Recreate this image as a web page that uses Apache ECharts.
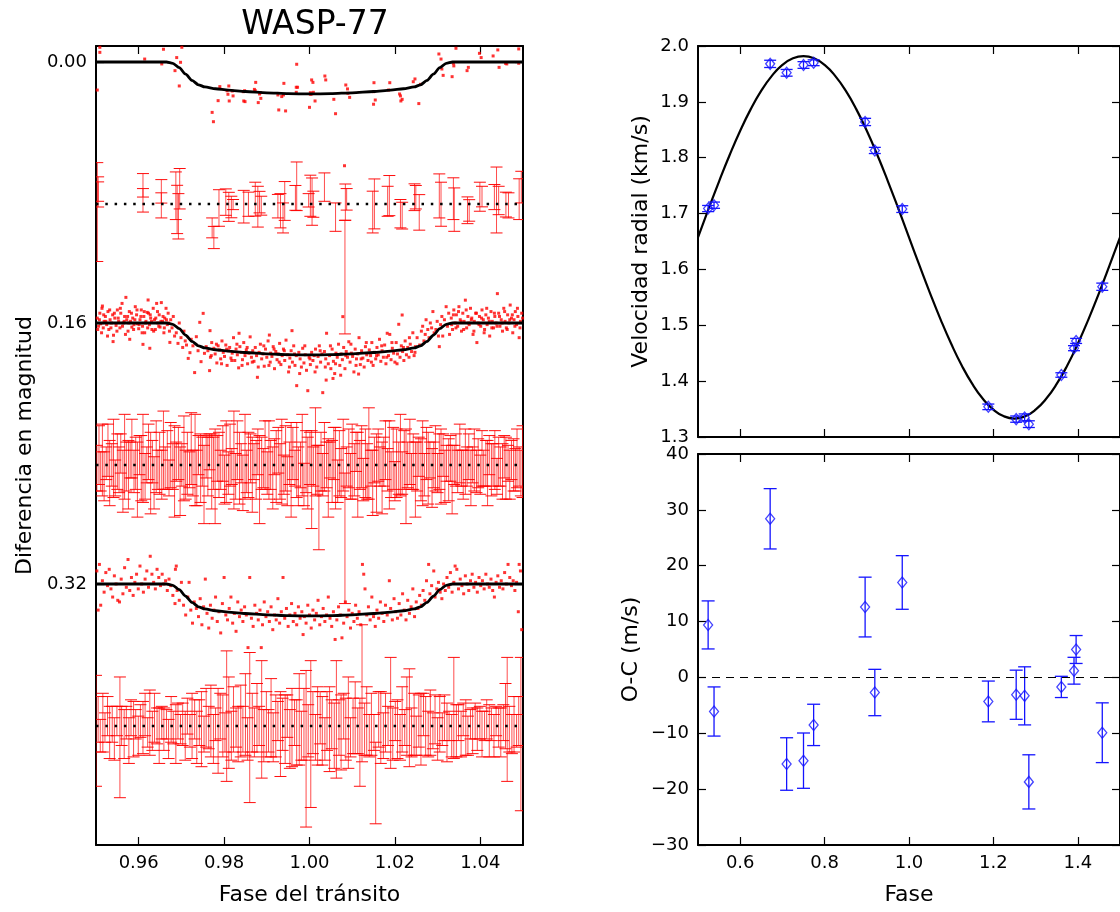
<!DOCTYPE html>
<html><head><meta charset="utf-8">
<script src="https://cdn.jsdelivr.net/npm/echarts@6/dist/echarts.min.js"></script>
<style>html,body{margin:0;padding:0;background:#fff}#c{width:1120px;height:912px}</style>
</head><body><div id="c"></div>
<script>
// ---------------- DATA ----------------
// Transit model (phase, depth in mmag)
var transitModel = [[0.95,0],[0.9665,0],[0.968,0.8],[0.9695,3.5],[0.971,7.5],[0.9725,11.3],[0.974,14.0],[0.9755,15.3],[0.978,16.4],[0.981,17.2],[0.985,18.1],[0.99,18.9],[0.995,19.4],[1.0,19.6],[1.005,19.4],[1.01,18.9],[1.015,18.1],[1.019,17.2],[1.022,16.4],[1.0245,15.3],[1.026,14.0],[1.0275,11.3],[1.029,7.5],[1.0305,3.5],[1.032,0.8],[1.0335,0],[1.05,0]];
var transitOffsets = [0, 0.16, 0.32];
var residOffsets = [0.087, 0.247, 0.407];

// Transit 1 photometry (phase, mmag)
var t1 = [[0.9509,-9.0],[0.9509,-5.9],[0.9614,-1.8],[0.9658,-7.8],[0.9701,-9.0],[0.9689,-2.7],[0.9698,0.2],[0.9654,1.2],[0.9685,5.3],[0.9695,14.7],[0.9503,17.2],[0.9970,1.4],[1.0036,8.6],[1.0038,11.0],[1.0005,11.0],[1.0008,12.5],[0.9940,13.1],[0.9969,15.5],[0.9972,15.5],[0.9874,12.5],[0.9811,14.7],[0.9790,15.1],[0.9807,17.6],[0.9819,17.8],[0.9848,17.6],[0.9845,18.2],[0.9871,16.8],[0.9873,17.6],[0.9885,18.8],[0.9883,19.6],[0.9809,19.8],[0.9821,20.8],[0.9786,23.7],[0.9812,23.9],[0.9846,23.9],[0.9849,24.3],[0.9880,24.9],[0.9886,22.3],[0.9926,20.2],[0.9935,21.2],[0.9939,20.2],[0.9969,18.6],[1.0002,18.8],[1.0005,19.6],[1.0009,18.6],[1.0002,19.8],[1.0013,23.9],[1.0057,22.9],[1.0085,14.1],[1.0089,16.5],[1.0090,19.2],[1.0094,21.7],[1.0151,12.7],[1.0150,18.2],[1.0154,23.3],[1.0150,25.9],[1.0188,12.7],[1.0185,17.2],[1.0211,19.6],[1.0213,20.8],[1.0217,22.9],[1.0214,23.9],[1.0243,12.1],[1.0247,10.4],[1.0260,13.7],[1.0256,25.5],[0.9928,29.4],[0.9944,30.0],[1.0000,27.8],[1.0061,31.7],[0.9772,30.9],[0.9775,36.6],[1.0303,-4.9],[1.0308,-1.8],[1.0343,-8.4],[1.0398,-5.3],[1.0402,-2.7],[1.0430,-3.7],[1.0441,-7.4],[1.0490,-8.0],[1.0310,4.3],[1.0313,8.2],[1.0334,9.0],[1.0338,2.4],[1.0337,0.8],[1.0372,3.3],[1.0369,5.3],[1.0444,3.3],[1.0459,0.8],[1.0462,1.2],[1.0490,0.8],[1.0082,63.6]];

// Transit 2 photometry (phase, mmag)
var t2 = [[0.9503,-3],[0.9506,2],[0.9509,-6],[0.9511,0.5],[0.9514,-9],[0.9515,-10.4],[0.9517,3],[0.9519,-1],[0.9522,-4],[0.9525,1],[0.9528,-7],[0.9530,4],[0.9533,-2],[0.9536,0],[0.9539,-5],[0.9540,11.4],[0.9541,7.5],[0.9544,-3],[0.9547,1.5],[0.9550,-8],[0.9553,-1],[0.9556,3],[0.9558,-6],[0.9561,-12],[0.9564,0],[0.9567,-4],[0.9570,-15.7],[0.9572,-2],[0.9575,5],[0.9578,-7],[0.9579,10],[0.9581,-1],[0.9584,2.5],[0.9586,-3],[0.9589,1],[0.9592,-10],[0.9595,-5],[0.9597,0.5],[0.9600,3.5],[0.9603,-2],[0.9606,-8],[0.9609,2],[0.9610,13.1],[0.9612,-4],[0.9614,6],[0.9617,-1],[0.9620,-6.5],[0.9622,-14.1],[0.9623,-6],[0.9625,1],[0.9626,15.5],[0.9628,-3],[0.9631,4],[0.9634,-9],[0.9637,-2],[0.9639,4],[0.9642,-12],[0.9645,0],[0.9648,-5],[0.9650,2.5],[0.9653,-12.5],[0.9656,-1],[0.9659,6],[0.9661,-3],[0.9664,-9],[0.9667,1],[0.9669,-6],[0.9672,5],[0.9673,11.9],[0.9675,-2],
[0.9504,4],[0.9508,-2],[0.9513,6],[0.9518,-5],[0.9523,-1],[0.9527,8],[0.9532,-8],[0.9535,3],[0.9543,-6],[0.9549,5],[0.9552,-3],[0.9557,-9],[0.9562,2],[0.9566,-1],[0.9569,7],[0.9574,-4],[0.9577,0],[0.9583,-6],[0.9588,4],[0.9591,-2],[0.9596,-8],[0.9601,1],[0.9605,-4],[0.9608,6],[0.9613,-7],[0.9616,0],[0.9621,3],[0.9627,-5],[0.9630,-1],[0.9635,5],[0.9640,-3],[0.9644,-7],[0.9647,2],[0.9652,-1],[0.9657,-4],[0.9660,3],[0.9665,-2],[0.9670,0],
[0.9678,3],[0.9681,-4],[0.9684,8],[0.9688,6],[0.9692,12.5],[0.9695,0],[0.9699,9],[0.9703,15],[0.9706,5],[0.9709,11],[0.9712,13.5],[0.9716,21.7],[0.9720,18.2],[0.9723,10],[0.9727,14],[0.9731,30.4],[0.9735,8.4],[0.9739,17],[0.9743,-0.4],[0.9746,23.7],[0.9751,-5.9],[0.9754,18.6],[0.9758,14.5],[0.9766,29.2],[0.9767,4.7],
[0.9762,17],[0.9768,21],[0.9771,12],[0.9776,15.5],[0.9779,19],[0.9783,24.5],[0.9786,14],[0.9789,16.5],[0.9792,22],[0.9795,11],[0.9798,18],[0.9801,20.5],[0.9804,13.5],[0.9807,26],[0.9810,17],[0.9813,15],[0.9816,21.5],[0.9819,18.5],[0.9822,9],[0.9825,23],[0.9828,16],[0.9831,19.5],[0.9834,27.5],[0.9835,6.3],[0.9837,14.5],[0.9840,18],[0.9843,22.5],[0.9846,12],[0.9849,20],[0.9852,16.5],[0.9855,25],[0.9858,18.5],[0.9861,8.5],[0.9864,21],[0.9867,17],[0.9870,23.5],[0.9873,15],[0.9876,20],[0.9878,33.3],[0.9882,18],[0.9885,13],[0.9888,22],[0.9891,19],[0.9894,26.5],[0.9897,16],[0.9900,21],[0.9903,11],[0.9906,7.4],[0.9908,24],[0.9909,18.5],[0.9912,20.5],[0.9915,14.5],[0.9918,28],[0.9921,17.5],[0.9924,22.5],[0.9927,19],[0.9930,12.5],[0.9933,25.5],[0.9936,20],[0.9939,16],[0.9942,23],[0.9945,10.5],[0.9948,19.5],[0.9951,30],[0.9954,21.5],[0.9957,17],[0.9959,4.7],[0.9960,24],[0.9963,14],[0.9966,26],[0.9969,20],[0.9970,38.4],[0.9975,18],[0.9978,22],[0.9981,27],[0.9984,15.5],[0.9987,24.5],[0.9990,19.5],[0.9993,29],[0.9996,41.5],[0.9999,21],[1.0002,25.5],[1.0005,18],[1.0008,23],[1.0011,20],[1.0014,16],[1.0017,27],[1.0020,20.5],[1.0023,14],[1.0026,24],[1.0029,19],[1.0031,42.7],[1.0035,17.5],[1.0038,22],[1.0039,35],[1.0040,6.3],[1.0044,25],[1.0047,20],[1.0050,28],[1.0053,16],[1.0055,34],[1.0056,23.5],[1.0059,31],[1.0062,18.5],[1.0065,21],[1.0068,13],[1.0071,26],[1.0074,19],[1.0077,22.5],[1.0078,-3.9],[1.0080,15],[1.0083,28],[1.0086,17.5],[1.0089,21],[1.0092,11.5],[1.0095,24],[1.0098,18.5],[1.0101,20.5],[1.0104,30],[1.0107,16],[1.0110,22],[1.0113,19],[1.0115,31.3],[1.0116,9],[1.0119,25.5],[1.0122,17],[1.0125,21.5],[1.0128,27],[1.0131,14.5],[1.0134,19.5],[1.0137,23],[1.0140,16.5],[1.0143,20],[1.0146,12],[1.0149,26],[1.0152,18],[1.0155,22],[1.0158,15],[1.0161,19.5],[1.0164,10],[1.0167,23.5],[1.0170,17],[1.0173,21],[1.0176,13.5],[1.0179,25],[1.0182,6.3],[1.0185,20],[1.0188,7],[1.0191,22.5],[1.0194,15.5],[1.0197,18.5],[1.0200,24],[1.0203,12],[1.0206,19],[1.0209,0.8],[1.0212,21],[1.0215,14],[1.0217,-4.9],[1.0218,17.5],[1.0221,23],[1.0224,11],[1.0227,19.5],[1.0230,15],[1.0233,21],[1.0236,13],[1.0239,17.5],[1.0242,6],[1.0245,20],[1.0248,14.5],
[0.9770,20],[0.9782,13],[0.9794,25],[0.9806,16],[0.9818,23],[0.9830,13],[0.9842,26],[0.9854,15],[0.9866,24],[0.9880,27],[0.9893,14],[0.9905,26],[0.9917,16],[0.9929,24],[0.9941,17],[0.9953,27],[0.9965,19],[0.9977,31],[0.9989,14],[1.0001,22],[1.0013,30],[1.0025,17],[1.0037,27],[1.0049,14],[1.0061,25],[1.0073,32],[1.0085,20],[1.0097,13],[1.0109,26],[1.0121,22],[1.0133,12],[1.0145,24],[1.0157,20],[1.0169,14],[1.0181,21],[1.0193,12],[1.0205,25],[1.0220,15],[1.0234,9],[1.0247,18],
[1.0252,9],[1.0258,13.5],[1.0262,5],[1.0265,2],[1.0268,11],[1.0271,7],[1.0273,-2],[1.0277,4],[1.0280,9],[1.0283,0],[1.0286,3],[1.0289,-7],[1.0292,6],[1.0296,4],[1.0299,-1],[1.0302,8],[1.0304,14.5],[1.0307,1],[1.0310,-4],[1.0312,8],[1.0316,-2],[1.0320,-10],[1.0323,2],[1.0326,-6],[1.0328,7],
[1.0332,-3],[1.0335,4],[1.0338,-8],[1.0341,0],[1.0344,-5],[1.0347,2],[1.0350,-10],[1.0353,-2],[1.0356,5],[1.0359,-6],[1.0362,-1],[1.0365,-14],[1.0368,3],[1.0371,-4],[1.0374,1],[1.0377,-9],[1.0380,-3],[1.0383,7],[1.0386,-1],[1.0389,-6],[1.0392,12],[1.0395,0],[1.0398,-4],[1.0401,2],[1.0404,-8],[1.0407,-2],[1.0410,4],[1.0413,-5],[1.0416,1],[1.0419,-3],[1.0422,8],[1.0425,-7],[1.0428,-1],[1.0431,3],[1.0434,-4],[1.0437,0],[1.0440,-18],[1.0443,-6],[1.0446,2],[1.0449,-2],[1.0452,5],[1.0455,-9],[1.0458,-1],[1.0461,3],[1.0464,-5],[1.0467,0],[1.0470,-11],[1.0473,-3],[1.0476,6],[1.0479,-2],[1.0482,-7],[1.0485,1],[1.0488,-4],[1.0491,9],[1.0494,-1],[1.0497,-6],
[1.0333,1],[1.0337,-5],[1.0343,3],[1.0349,-7],[1.0355,-1],[1.0361,4],[1.0367,-8],[1.0373,0],[1.0379,-2],[1.0385,5],[1.0391,-6],[1.0397,1],[1.0403,-3],[1.0409,6],[1.0415,-9],[1.0421,-1],[1.0427,3],[1.0433,-6],[1.0439,2],[1.0445,-4],[1.0451,0],[1.0457,-7],[1.0463,4],[1.0469,-2],[1.0475,-5],[1.0481,2],[1.0487,-9],[1.0493,3],[1.0499,-3]];

// Transit 3 photometry (phase, mmag)
var t3 = [[0.9502,-8],[0.9505,16],[0.9508,-12],[0.9511,13],[0.9515,-2],[0.9519,5],[0.9523,-7],[0.9527,1],[0.9531,-9],[0.9535,3],[0.9539,8],[0.9543,-5],[0.9547,0],[0.9551,10],[0.9555,11],[0.9559,-3],[0.9563,6],[0.9567,-10],[0.9571,2],[0.9575,-15],[0.9579,4],[0.9583,-4],[0.9587,7],[0.9591,-1],[0.9595,-6],[0.9599,3],[0.9603,-11],[0.9607,0],[0.9611,5],[0.9615,-3],[0.9619,-8],[0.9623,2],[0.9627,-17],[0.9631,-6],[0.9635,-1],[0.9639,3],[0.9643,-9],[0.9647,-4],[0.9651,1],[0.9655,-6],[0.9659,0],[0.9663,-2],[0.9667,4],[0.9671,-3],[0.9675,1],[0.9688,-11],[0.9686,-9],
[0.9680,7],[0.9685,12],[0.9690,4],[0.9695,10],[0.9700,-1],[0.9705,13],[0.9710,19],[0.9715,8],[0.9718,-1],[0.9722,16],[0.9726,24],[0.9730,11],[0.9735,15],[0.9740,20],[0.9744,9],[0.9748,25],[0.9752,14],[0.9756,-3],[0.9760,18],[0.9764,27],[0.9768,13],[0.9772,21],[0.9776,16],[0.9780,8],[0.9784,23],[0.9788,17],[0.9792,30],[0.9796,12],[0.9800,-4],[0.9804,19],[0.9808,22],[0.9812,15],[0.9816,8],[0.9820,24],[0.9824,18],[0.9828,29],[0.9832,11],[0.9836,20],[0.9840,16],[0.9844,23],[0.9848,14],[0.9852,19],[0.9856,39],[0.9860,-4],[0.9864,21],[0.9868,26],[0.9872,13],[0.9876,18],[0.9880,22],[0.9884,16],[0.9887,39],[0.9890,25],[0.9894,11],[0.9898,20],[0.9902,17],[0.9906,23],[0.9910,14],[0.9914,28],[0.9918,19],[0.9922,22],[0.9926,9],[0.9930,24],[0.9934,17],[0.9938,-4],[0.9942,21],[0.9946,15],[0.9950,26],[0.9954,19],[0.9958,12],[0.9962,23],[0.9966,18],[0.9970,25],[0.9974,14],[0.9978,21],[0.9982,17],[0.9985,31],[0.9988,20],[0.9992,24],[0.9996,13],[1.0000,19],[1.0004,27],[1.0008,16],[1.0012,22],[1.0016,18],[1.0020,10],[1.0024,25],[1.0028,20],[1.0032,15],[1.0036,23],[1.0040,19],[1.0044,8],[1.0048,21],[1.0052,26],[1.0056,17],[1.0060,34],[1.0064,22],[1.0068,14],[1.0072,19],[1.0076,33],[1.0080,24],[1.0084,11],[1.0088,20],[1.0092,16],[1.0096,27],[1.0100,18],[1.0104,23],[1.0108,13],[1.0112,21],[1.0116,17],[1.0120,25],[1.0124,-12],[1.0127,-6],[1.0130,3],[1.0134,19],[1.0138,14],[1.0142,22],[1.0146,8],[1.0150,20],[1.0154,26],[1.0158,16],[1.0162,21],[1.0166,11],[1.0170,18],[1.0174,23],[1.0178,13],[1.0182,19],[1.0187,-2],[1.0190,15],[1.0194,22],[1.0198,9],[1.0202,17],[1.0206,21],[1.0210,12],[1.0214,19],[1.0218,6],[1.0222,16],[1.0226,22],[1.0230,10],[1.0234,18],[1.0238,14],[1.0242,3],[1.0246,20],[1.0250,11],[1.0254,15],[1.0258,7],[1.0262,13],[1.0266,4],[1.0270,10],[1.0274,-2],[1.0279,-12],[1.0282,6],[1.0286,1],[1.0291,-8],[1.0294,8],[1.0298,3],[1.0302,-1],[1.0306,5],[1.0310,9],[1.0314,0],[1.0318,4],
[1.0322,-4],[1.0326,2],[1.0330,-7],[1.0334,5],[1.0338,-1],[1.0341,-11],[1.0345,-9],[1.0349,3],[1.0353,-3],[1.0357,1],[1.0361,6],[1.0365,-5],[1.0369,0],[1.0373,4],[1.0377,-2],[1.0381,-6],[1.0385,2],[1.0389,-1],[1.0393,5],[1.0397,-4],[1.0401,1],[1.0405,-2],[1.0409,3],[1.0413,-6],[1.0417,0],[1.0421,2],[1.0425,-3],[1.0429,4],[1.0433,8],[1.0437,-1],[1.0441,-5],[1.0445,2],[1.0449,-2],[1.0453,3],[1.0457,-7],[1.0461,0],[1.0465,-12],[1.0469,-4],[1.0473,1],[1.0477,-2],[1.0481,4],[1.0485,-1],[1.0489,17],[1.0491,-12],[1.0494,-8],[1.0497,28]];

// Residuals (phase, residual mmag, error mmag)
var r1 = [[0.9503,5.0,30.3],[0.9505,-9.1,7.5],[0.9505,-5.8,7.7],[0.9610,-11.4,7.2],[0.9610,-2.2,7.2],[0.9653,-7.7,7.2],[0.9653,0.9,7.7],[0.9687,-5.0,14.6],[0.9690,3.4,14.8],[0.9696,-9.3,12.4],[0.9693,7.6,13.9],[0.9772,14.7,6.1],[0.9776,20.6,6.8],[0.9788,2.5,11.2],[0.9804,-1.1,8.1],[0.9811,1.8,8.9],[0.9817,1.9,6.6],[0.9821,0.4,3.1],[0.9846,1.7,10.0],[0.9857,0.2,7.4],[0.9873,-2.9,10.4],[0.9879,1.7,12.5],[0.9883,-1.1,6.6],[0.9887,1.1,5.8],[0.9926,1.4,7.2],[0.9932,4.2,10.5],[0.9938,8.6,9.2],[0.9942,-1.8,11.9],[0.9970,-10.8,14.9],[0.9967,-3.7,7.6],[1.0002,-5.0,12.6],[1.0006,-1.4,14.5],[1.0009,0.2,8.0],[0.9998,-2.2,4.1],[1.0035,-10.3,8.7],[1.0061,8.1,8.7],[1.0084,-1.1,11.1],[1.0087,-2.8,6.6],[1.0083,44.9,34.8],[1.0152,0.0,15.3],[1.0148,5.0,12.8],[1.0187,-5.1,12.3],[1.0183,-1.6,9.2],[1.0213,6.0,8.7],[1.0217,7.2,8.2],[1.0246,-4.1,8.2],[1.0249,-4.1,7.2],[1.0257,5.2,10.9],[1.0304,-4.9,13.5],[1.0308,0.2,13.5],[1.0337,-3.2,12.8],[1.0339,3.5,13.3],[1.0370,3.9,8.2],[1.0374,4.0,6.6],[1.0399,-4.4,8.9],[1.0404,-4.5,6.3],[1.0438,-2.4,20.2],[1.0433,-4.2,7.7],[1.0443,-2.1,8.7],[1.0460,0.4,7.6],[1.0466,0.9,7.7],[1.0491,-2.9,12.5],[1.0496,-10.3,9.7]];

var r2 = [[0.9502,2,14],[0.9507,-6,18],[0.9511,4,12],[0.9515,-3,22],[0.9519,7,15],[0.9524,-1,10],[0.9528,-9,16],[0.9532,5,20],[0.9537,0,13],[0.9541,-4,24],[0.9545,8,11],[0.9550,-2,17],[0.9554,3,14],[0.9558,-7,12],[0.9563,10,19],[0.9567,-5,26],[0.9571,1,15],[0.9576,6,21],[0.9580,-3,11],[0.9584,-10,18],[0.9589,4,13],[0.9593,-1,16],[0.9597,9,23],
[0.9602,-6,12],[0.9606,2,20],[0.9610,-4,27],[0.9615,7,14],[0.9619,0,11],[0.9623,-8,17],[0.9628,5,25],[0.9632,-2,13],[0.9636,11,16],[0.9641,-5,22],[0.9645,3,12],[0.9649,-1,19],[0.9654,6,15],[0.9658,-9,24],[0.9662,2,13],[0.9667,-3,18],[0.9671,8,11],[0.9675,-6,20],[0.9680,1,14],[0.9684,4,28],[0.9688,-2,12],[0.9693,-7,16],[0.9697,10,21],
[0.9701,0,13],[0.9706,-4,26],[0.9710,6,15],[0.9714,-1,19],[0.9719,3,11],[0.9723,-10,22],[0.9727,5,14],[0.9732,-3,28],[0.9736,8,17],[0.9740,-6,12],[0.9745,2,21],[0.9749,-2,15],[0.9753,12,24],[0.9758,-5,13],[0.9762,1,18],[0.9766,-8,11],[0.9771,4,23],[0.9775,-1,16],[0.9779,7,29],[0.9784,-4,14],[0.9788,0,20],[0.9792,3,12],[0.9797,-7,17],
[0.9801,9,15],[0.9805,-2,25],[0.9810,5,13],[0.9814,-6,19],[0.9818,1,11],[0.9823,-3,30],[0.9827,7,14],[0.9831,-9,18],[0.9836,2,22],[0.9840,-1,12],[0.9844,11,17],[0.9849,-5,26],[0.9853,4,13],[0.9857,0,20],[0.9862,-4,15],[0.9866,6,23],[0.9870,-2,11],[0.9875,3,18],[0.9879,-8,14],[0.9883,9,27],[0.9888,-1,16],[0.9892,2,12],[0.9896,-6,21],
[0.9901,5,13],[0.9905,-3,24],[0.9909,0,15],[0.9914,8,19],[0.9918,-5,11],[0.9922,1,22],[0.9927,-9,14],[0.9931,4,17],[0.9935,-2,26],[0.9940,6,12],[0.9944,-4,20],[0.9948,10,15],[0.9953,-1,13],[0.9957,3,29],[0.9961,-7,16],[0.9966,2,11],[0.9970,-3,23],[0.9974,7,18],[0.9979,0,14],[0.9983,-6,25],[0.9987,12,13],[0.9992,-2,19],[0.9996,5,22],
[1.0001,-4,16],[1.0005,9,30],[1.0009,1,12],[1.0014,-8,27],[1.0018,3,15],[1.0022,20,32],[1.0027,-2,18],[1.0031,6,13],[1.0035,-5,21],[1.0040,0,14],[1.0044,8,24],[1.0048,-3,11],[1.0053,4,19],[1.0057,-7,16],[1.0061,2,25],[1.0066,10,13],[1.0070,-1,20],[1.0074,5,15],[1.0079,-6,22],[1.0083,45,40],[1.0087,1,12],[1.0092,-4,18],[1.0096,7,14],
[1.0100,-2,23],[1.0105,3,16],[1.0109,-8,12],[1.0113,6,26],[1.0118,0,15],[1.0122,-5,19],[1.0126,9,13],[1.0131,-1,21],[1.0135,4,17],[1.0139,-7,28],[1.0144,2,11],[1.0148,11,20],[1.0152,-3,14],[1.0157,5,24],[1.0161,-6,16],[1.0165,1,12],[1.0170,8,22],[1.0174,-2,15],[1.0178,-9,18],[1.0183,3,13],[1.0187,0,27],[1.0191,6,14],[1.0196,-4,19],
[1.0200,10,12],[1.0204,-1,21],[1.0209,2,16],[1.0213,-6,25],[1.0217,5,13],[1.0222,-3,18],[1.0226,7,29],[1.0230,0,14],[1.0235,-8,20],[1.0239,4,11],[1.0243,-2,17],[1.0248,9,23],[1.0252,1,15],[1.0256,-5,12],[1.0261,3,19],[1.0265,-1,26],[1.0269,6,13],[1.0274,-7,16],[1.0278,2,22],[1.0282,-3,11],[1.0287,8,18],[1.0291,0,14],[1.0295,-4,20],
[1.0300,5,12],[1.0304,-2,17],[1.0308,1,23],[1.0313,-6,13],[1.0317,7,16],[1.0321,-1,11],[1.0326,3,19],[1.0330,-4,14],[1.0334,9,21],[1.0339,0,12],[1.0343,-3,16],[1.0347,4,13],[1.0352,-7,18],[1.0356,2,11],[1.0360,6,15],[1.0365,-2,20],[1.0369,1,12],[1.0373,-5,14],[1.0378,8,17],[1.0382,0,11],[1.0386,-3,19],[1.0391,4,13],[1.0395,-1,15],
[1.0400,6,12],[1.0404,-4,17],[1.0408,2,11],[1.0413,-1,14],[1.0417,5,20],[1.0421,-6,12],[1.0426,3,16],[1.0430,0,13],[1.0434,-3,18],[1.0439,7,11],[1.0443,-2,15],[1.0447,1,12],[1.0452,4,17],[1.0456,-5,13],[1.0460,2,19],[1.0465,-1,11],[1.0469,6,15],[1.0473,-3,12],[1.0478,0,16],[1.0482,3,13],[1.0486,-4,18],[1.0491,1,12],[1.0495,5,14],[1.0499,-2,22]];

var r3 = [[0.9500,3,34],[0.9505,-4,14],[0.9510,6,10],[0.9516,-2,18],[0.9521,1,9],[0.9527,-6,12],[0.9532,4,16],[0.9538,-1,11],[0.9543,8,13],[0.9549,-3,9],[0.9556,7,37],[0.9560,0,12],[0.9566,5,15],[0.9571,-2,10],[0.9577,9,14],[0.9582,-5,11],[0.9588,2,17],[0.9593,-1,9],[0.9599,6,12],
[0.9604,-3,10],[0.9610,1,16],[0.9615,-7,13],[0.9621,4,9],[0.9626,-2,20],[0.9632,3,12],[0.9637,-5,15],[0.9643,0,11],[0.9648,6,17],[0.9654,-2,10],[0.9659,2,13],[0.9665,-1,9],[0.9670,8,12],[0.9676,-4,14],[0.9681,1,10],[0.9687,5,18],[0.9692,-3,11],[0.9698,2,9],
[0.9703,-1,13],[0.9709,6,15],[0.9714,-6,11],[0.9720,3,10],[0.9725,0,20],[0.9731,-4,12],[0.9736,7,16],[0.9742,-2,14],[0.9747,2,23],[0.9753,5,11],[0.9758,-5,18],[0.9764,1,13],[0.9769,-3,22],[0.9775,8,15],[0.9780,-1,10],[0.9786,3,26],[0.9791,-6,14],[0.9797,0,19],
[0.9802,4,12],[0.9806,-6,40],[0.9811,-2,28],[0.9817,6,15],[0.9822,-4,20],[0.9828,1,12],[0.9833,5,17],[0.9839,-3,22],[0.9844,2,14],[0.9850,-7,25],[0.9855,8,13],[0.9860,1,46],[0.9866,-2,18],[0.9871,4,15],[0.9877,-5,21],[0.9882,0,12],[0.9888,-4,36],[0.9893,6,16],[0.9899,-1,20],
[0.9904,3,13],[0.9910,-5,24],[0.9915,7,15],[0.9921,0,19],[0.9926,-3,12],[0.9932,5,26],[0.9937,-1,16],[0.9943,2,21],[0.9948,-6,13],[0.9954,8,18],[0.9959,1,24],[0.9965,-2,14],[0.9970,4,20],[0.9976,-4,28],[0.9981,6,15],[0.9987,-1,22],[0.9992,14,48],[0.9997,3,16],
[1.0003,5,45],[1.0008,-2,19],[1.0014,7,14],[1.0019,0,24],[1.0025,-5,16],[1.0030,3,21],[1.0036,8,13],[1.0041,-3,18],[1.0047,2,26],[1.0052,-1,15],[1.0058,6,20],[1.0063,-4,36],[1.0069,1,17],[1.0074,4,23],[1.0080,-6,14],[1.0085,2,19],[1.0091,-2,28],[1.0096,7,12],
[1.0102,0,17],[1.0107,-5,22],[1.0113,3,14],[1.0118,10,27],[1.0123,-20,42],[1.0129,2,16],[1.0134,-3,21],[1.0140,6,13],[1.0145,-1,19],[1.0151,4,11],[1.0155,35,25],[1.0162,-4,17],[1.0167,1,22],[1.0173,6,14],[1.0178,-2,18],[1.0184,0,12],[1.0190,-8,34],[1.0195,5,16],
[1.0201,-3,12],[1.0206,2,18],[1.0212,7,14],[1.0217,-4,20],[1.0223,1,11],[1.0228,-6,24],[1.0234,-5,30],[1.0239,4,15],[1.0245,-1,19],[1.0250,6,12],[1.0256,-3,16],[1.0261,2,22],[1.0267,-7,13],[1.0272,0,18],[1.0278,5,14],[1.0283,-2,20],[1.0289,3,11],[1.0294,-4,15],
[1.0300,8,13],[1.0305,-1,17],[1.0311,2,10],[1.0316,-5,14],[1.0322,4,18],[1.0327,0,9],[1.0333,6,13],[1.0338,-11,31],[1.0344,3,16],[1.0349,-2,11],[1.0355,5,14],[1.0360,-4,10],[1.0366,1,17],[1.0371,6,12],[1.0377,-1,9],[1.0382,3,14],[1.0388,-3,11],[1.0393,2,13],
[1.0399,-2,10],[1.0404,5,14],[1.0410,0,9],[1.0415,-4,12],[1.0421,3,16],[1.0426,-1,10],[1.0432,6,13],[1.0437,-3,9],[1.0443,1,12],[1.0448,4,15],[1.0454,-2,11],[1.0459,-6,20],[1.0463,-4,38],[1.0468,2,14],[1.0474,5,12],[1.0479,-1,17],[1.0485,3,10],[1.0490,-3,15],[1.0495,5,47]];

// Radial velocities
var rvPhase = [0.524, 0.538, 0.671, 0.710, 0.750, 0.774, 0.896, 0.919, 0.984, 1.188, 1.254, 1.274, 1.284, 1.361, 1.391, 1.396, 1.458];
var rvValue = [1.709, 1.715, 1.968, 1.952, 1.966, 1.970, 1.864, 1.813, 1.708, 1.354, 1.332, 1.335, 1.323, 1.411, 1.459, 1.472, 1.569];
var rvErr   = [0.0055, 0.0056, 0.0065, 0.006, 0.006, 0.0052, 0.0065, 0.0055, 0.006, 0.005, 0.0056, 0.0063, 0.006, 0.004, 0.0045, 0.0045, 0.0065];
var ocValue = [9.4, -6.1, 28.4, -15.5, -14.9, -8.5, 12.6, -2.7, 17.0, -4.3, -3.1, -3.3, -18.7, -1.7, 1.2, 5.0, -9.9];
var ocErr   = [4.3, 4.4, 5.4, 4.7, 4.95, 3.7, 5.35, 4.15, 4.8, 3.65, 4.4, 5.2, 4.85, 1.9, 2.4, 2.5, 5.35];
// Orbital model (phase, km/s)
var rvModel = [[0.5,1.6575],[0.525,1.7083],[0.55,1.7578],[0.575,1.8048],[0.6,1.8482],[0.625,1.8870],[0.65,1.9200],[0.675,1.9466],[0.7,1.9661],[0.725,1.9780],[0.75,1.9820],[0.775,1.9780],[0.8,1.9661],[0.825,1.9466],[0.85,1.9200],[0.875,1.8870],[0.9,1.8482],[0.925,1.8048],[0.95,1.7578],[0.975,1.7083],[1.0,1.6575],[1.025,1.6067],[1.05,1.5572],[1.075,1.5102],[1.1,1.4668],[1.125,1.4280],[1.15,1.3950],[1.175,1.3684],[1.2,1.3489],[1.225,1.3370],[1.25,1.3330],[1.275,1.3370],[1.3,1.3489],[1.325,1.3684],[1.35,1.3950],[1.375,1.4280],[1.4,1.4668],[1.425,1.5102],[1.45,1.5572],[1.475,1.6067],[1.5,1.6575]];

var xTicksL = [0.96, 0.98, 1.00, 1.02, 1.04];
var yTicksL = [0.00, 0.16, 0.32];
var xTicksR = [0.6, 0.8, 1.0, 1.2, 1.4];

// ---------------- BUILD ----------------
function shift(arr, off) { return arr.map(function (p) { return [p[0], off + p[1] / 1000]; }); }
function bars(arr, off) { return arr.map(function (p) { return [p[0], off + (p[1] - p[2]) / 1000, off + (p[1] + p[2]) / 1000]; }); }

var FONT = 'DejaVu Sans';
var BLACK = '#000';

function errSeries(data, xi, yi, cap, color, capColor, lw, z) {
  return {
    type: 'custom', xAxisIndex: xi, yAxisIndex: yi, clip: true, silent: true, z: z || 2,
    data: data, encode: { x: 0, y: [1, 2] },
    renderItem: function (params, api) {
      var x = api.value(0);
      var a = api.coord([x, api.value(1)]);
      var b = api.coord([x, api.value(2)]);
      var st = { stroke: color, lineWidth: lw, fill: null };
      var cs = { stroke: capColor, lineWidth: lw, fill: null };
      return { type: 'group', children: [
        { type: 'line', shape: { x1: a[0], y1: a[1], x2: b[0], y2: b[1] }, style: st },
        { type: 'line', shape: { x1: a[0] - cap, y1: a[1], x2: a[0] + cap, y2: a[1] }, style: cs },
        { type: 'line', shape: { x1: b[0] - cap, y1: b[1], x2: b[0] + cap, y2: b[1] }, style: cs }
      ] };
    }
  };
}

function mkAxis(o) {
  var a = {
    type: 'value', gridIndex: o.grid, position: o.pos, min: o.min, max: o.max,
    inverse: !!o.inverse, scale: true,
    axisLine: { show: true, onZero: false, lineStyle: { color: BLACK, width: 2 } },
    axisTick: { show: true, inside: true, length: 8, lineStyle: { color: BLACK, width: 1.2 } },
    axisLabel: { show: !!o.labels, color: BLACK, fontSize: 18, fontFamily: FONT, margin: 9, formatter: o.fmt },
    splitLine: { show: false }
  };
  if (o.ticks) { a.axisTick.customValues = o.ticks; a.axisLabel.customValues = o.ticks; }
  if (o.interval) a.interval = o.interval;
  if (o.name) {
    a.name = o.name; a.nameLocation = 'middle'; a.nameGap = o.gap;
    a.nameTextStyle = { fontSize: 22, color: BLACK, fontFamily: FONT };
  }
  return a;
}

var f2 = function (v) { return v.toFixed(2); };
var f1 = function (v) { return v.toFixed(1); };
var fm = function (v) { return String(Math.round(v)).replace('-', '\u2212'); };

var xAxes = [
  mkAxis({ grid: 0, pos: 'bottom', min: 0.95, max: 1.05, ticks: xTicksL, labels: true, fmt: f2, name: 'Fase del tránsito', gap: 39 }),
  mkAxis({ grid: 0, pos: 'top', min: 0.95, max: 1.05, ticks: xTicksL }),
  mkAxis({ grid: 1, pos: 'bottom', min: 0.5, max: 1.5, ticks: xTicksR }),
  mkAxis({ grid: 1, pos: 'top', min: 0.5, max: 1.5, ticks: xTicksR }),
  mkAxis({ grid: 2, pos: 'bottom', min: 0.5, max: 1.5, ticks: xTicksR, labels: true, fmt: f1, name: 'Fase', gap: 39 }),
  mkAxis({ grid: 2, pos: 'top', min: 0.5, max: 1.5, ticks: xTicksR })
];
var yAxes = [
  mkAxis({ grid: 0, pos: 'left', min: -0.0098, max: 0.48, inverse: true, ticks: yTicksL, labels: true, fmt: f2, name: 'Diferencia en magnitud', gap: 60 }),
  mkAxis({ grid: 0, pos: 'right', min: -0.0098, max: 0.48, inverse: true, ticks: yTicksL }),
  mkAxis({ grid: 1, pos: 'left', min: 1.3, max: 2.0, interval: 0.1, labels: true, fmt: f1, name: 'Velocidad radial (km/s)', gap: 46 }),
  mkAxis({ grid: 1, pos: 'right', min: 1.3, max: 2.0, interval: 0.1 }),
  mkAxis({ grid: 2, pos: 'left', min: -30, max: 40, interval: 10, labels: true, fmt: fm, name: 'O-C (m/s)', gap: 56 }),
  mkAxis({ grid: 2, pos: 'right', min: -30, max: 40, interval: 10 })
];

var series = [];
var tSets = [t1, t2, t3];
var rSets = [r1, r2, r3];
for (var i = 0; i < 3; i++) {
  series.push(errSeries(bars(rSets[i], residOffsets[i]), 0, 0, 6, 'rgba(255,0,0,0.7)', 'rgba(255,0,0,0.95)', 1, 2));
  series.push({ type: 'line', xAxisIndex: 0, yAxisIndex: 0, data: [[xAxes[0].min, residOffsets[i]], [xAxes[0].max, residOffsets[i]]],
    showSymbol: false, silent: true, z: 4, lineStyle: { color: BLACK, width: 2.5, type: [2.5, 6.8], cap: 'butt' } });
  series.push({ type: 'scatter', xAxisIndex: 0, yAxisIndex: 0, data: shift(tSets[i], transitOffsets[i]),
    symbol: 'rect', symbolSize: 3, silent: true, z: 2, itemStyle: { color: '#ff0000' } });
  series.push({ type: 'line', xAxisIndex: 0, yAxisIndex: 0, data: shift(transitModel, transitOffsets[i]),
    showSymbol: false, silent: true, z: 5, smooth: 0.25, smoothMonotone: 'x', lineStyle: { color: BLACK, width: 2.8 } });
}

var rvPts = rvPhase.map(function (p, k) { return [p, rvValue[k]]; });
var rvBars = rvPhase.map(function (p, k) { return [p, rvValue[k] - rvErr[k], rvValue[k] + rvErr[k]]; });
var ocPts = rvPhase.map(function (p, k) { return [p, ocValue[k]]; });
var ocBars = rvPhase.map(function (p, k) { return [p, ocValue[k] - ocErr[k], ocValue[k] + ocErr[k]]; });
var BLUE = '#1414ff';

series.push({ type: 'line', xAxisIndex: 2, yAxisIndex: 2, data: rvModel, showSymbol: false, silent: true, smooth: true, z: 3,
  lineStyle: { color: BLACK, width: 2.2 } });
series.push(errSeries(rvBars, 2, 2, 6, BLUE, BLUE, 1.3, 4));
series.push({ type: 'scatter', xAxisIndex: 2, yAxisIndex: 2, data: rvPts, symbol: 'diamond', symbolSize: [9, 11], silent: true, z: 5,
  itemStyle: { color: 'rgba(255,255,255,0)', borderColor: BLUE, borderWidth: 1.3 } });

series.push(errSeries(ocBars, 4, 4, 6.5, BLUE, BLUE, 1.3, 4));
series.push({ type: 'scatter', xAxisIndex: 4, yAxisIndex: 4, data: ocPts, symbol: 'diamond', symbolSize: [9, 11], silent: true, z: 5,
  itemStyle: { color: 'rgba(255,255,255,0)', borderColor: BLUE, borderWidth: 1.3 },
  markLine: { silent: true, symbol: 'none', label: { show: false }, animation: false,
    lineStyle: { color: BLACK, width: 1, type: [8, 6] }, data: [{ yAxis: 0 }] } });

var chart = echarts.init(document.getElementById('c'), null, { renderer: 'canvas' });
chart.setOption({
  animation: false,
  backgroundColor: '#fff',
  textStyle: { fontFamily: FONT },
  title: { text: 'WASP-77', left: 310, top: 4, textAlign: 'center',
    textStyle: { fontSize: 33, fontWeight: 'normal', color: BLACK, fontFamily: FONT } },
  grid: [
    { left: 96, top: 46, width: 427, height: 799 },
    { left: 698, top: 46, width: 430, height: 391 },
    { left: 698, top: 454, width: 430, height: 391 }
  ],
  xAxis: xAxes,
  yAxis: yAxes,
  series: series
});
</script>
</body></html>
